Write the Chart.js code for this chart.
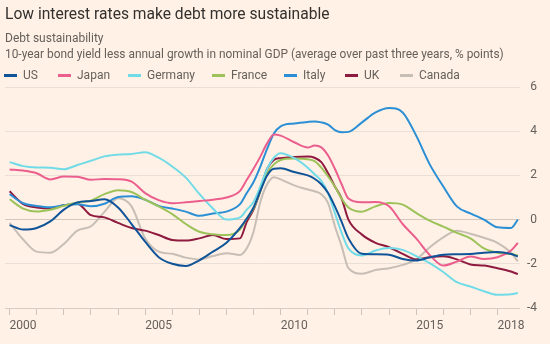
<!DOCTYPE html>
<html>
<head>
<meta charset="utf-8">
<script src="https://cdn.jsdelivr.net/npm/chart.js@4"></script>
<style>
  html,body{margin:0;padding:0;background:#fff1e5;}
  #wrap{position:relative;width:550px;height:344px;overflow:hidden;background:#fff1e5;font-family:Roboto,"Noto Sans",sans-serif;}
  #c{position:absolute;left:0;top:0;}
  .t{position:absolute;white-space:nowrap;}
  #title{left:5px;top:4px;font-size:15.6px;line-height:20px;color:#33302e;}
  #sub1{left:5px;top:30px;font-size:12px;line-height:16px;color:#66605c;}
  #sub2{left:5px;top:46px;font-size:11.9px;line-height:16px;color:#66605c;}
  .lg{position:absolute;top:67px;height:16px;font-size:12px;line-height:16px;color:#66605c;white-space:nowrap;}
  .sw{position:absolute;top:7px;width:13px;height:3px;}
</style>
</head>
<body>
<div id="wrap">
  <canvas id="c" width="550" height="344"></canvas>
  <div class="t" id="title">Low interest rates make debt more sustainable</div>
  <div class="t" id="sub1">Debt sustainability</div>
  <div class="t" id="sub2">10-year bond yield less annual growth in nominal GDP (average over past three years, % points)</div>
  <div id="legend"></div>
</div>
<script>
// ---- data ----
const years = [2000,2000.5,2001,2001.5,2002,2002.5,2003,2003.5,2004,2004.5,2005,2005.5,2006,2006.5,2007,2007.5,2008,2008.5,2008.75,2009,2009.25,2009.5,2009.75,2010,2010.5,2011,2011.25,2011.5,2011.75,2012,2012.25,2012.5,2013,2013.5,2014,2014.5,2015,2015.5,2016,2016.5,2017,2017.5,2018,2018.5,2018.75];

const us      = [-0.25,-0.45,-0.38,-0.08,0.45,0.78,0.84,0.92,0.55,-0.2,-1.0,-1.7,-2.0,-2.1,-1.84,-1.45,-1.05,-0.38,0.05,0.55,1.3,2.0,2.3,2.32,2.15,2.0,1.85,1.6,1.2,0.6,-0.1,-0.85,-1.55,-1.57,-1.59,-1.78,-1.85,-1.71,-1.59,-1.57,-1.56,-1.5,-1.47,-1.56,-1.67];
const japan   = [2.27,2.22,2.1,1.82,1.95,1.94,1.8,1.84,1.83,1.72,1.2,0.88,0.74,0.78,0.84,0.9,1.0,1.3,1.8,2.3,2.85,3.45,3.85,3.8,3.5,3.26,3.35,3.27,2.9,2.3,1.6,0.95,0.78,0.8,0.6,-0.2,-0.85,-1.6,-2.08,-1.9,-1.67,-1.78,-1.7,-1.4,-1.06];
const germany = [2.6,2.42,2.36,2.35,2.28,2.47,2.66,2.86,2.94,2.97,3.05,2.8,2.4,1.9,1.16,0.5,0.0,0.1,0.45,0.8,1.5,2.3,2.8,3.0,2.78,2.35,2.05,1.75,1.2,0.3,-0.6,-1.3,-1.62,-1.4,-1.29,-1.37,-1.65,-1.97,-2.37,-2.83,-3.03,-3.24,-3.4,-3.38,-3.32];
const france  = [0.92,0.5,0.37,0.45,0.62,0.77,0.86,1.15,1.33,1.25,0.9,0.6,0.25,-0.2,-0.55,-0.66,-0.7,-0.45,0.05,0.5,1.3,2.1,2.5,2.7,2.76,2.73,2.65,2.35,1.95,1.5,0.95,0.55,0.36,0.6,0.75,0.68,0.3,-0.05,-0.32,-0.6,-0.85,-1.3,-1.5,-1.56,-1.62];
const italy   = [1.15,0.74,0.62,0.56,0.65,0.7,0.6,0.72,1.02,1.06,0.9,0.62,0.5,0.36,0.17,0.28,0.36,0.7,1.2,1.7,2.4,3.2,3.9,4.22,4.35,4.42,4.44,4.4,4.3,4.05,3.95,3.97,4.4,4.85,5.05,4.85,3.8,2.5,1.5,0.6,0.28,0.0,-0.35,-0.38,0.0];
const uk      = [1.28,0.7,0.55,0.5,0.65,0.72,0.2,0.1,-0.15,-0.38,-0.5,-0.7,-0.92,-0.95,-0.85,-0.7,-0.88,-0.85,-0.1,0.45,1.3,2.3,2.7,2.78,2.83,2.85,2.8,2.6,2.1,1.5,0.95,0.0,-0.68,-1.05,-1.25,-1.55,-1.8,-1.7,-1.66,-1.8,-2.03,-2.08,-2.2,-2.35,-2.47];
const canada  = [-0.15,-0.9,-1.45,-1.5,-1.1,-0.5,-0.3,0.35,0.97,0.6,-0.85,-1.45,-1.55,-1.72,-1.8,-1.65,-1.52,-1.6,-1.3,-0.55,0.8,1.6,1.92,1.82,1.55,1.36,1.28,1.15,0.75,-0.3,-1.2,-2.2,-2.45,-2.28,-2.2,-2.05,-1.8,-1.25,-0.8,-0.5,-0.64,-0.82,-1.05,-1.5,-1.89];

const seriesNames = ['US','Japan','Germany','France','Italy','UK','Canada'];
const seriesValues = [us, japan, germany, france, italy, uk, canada];
const seriesColors = ['#0f5499','#eb5e8d','#72dbe8','#9cc259','#2b8fd6','#8f1a3f','#c7beb6'];

const xTickYears = [2000,2001,2002,2003,2004,2005,2006,2007,2008,2009,2010,2011,2012,2013,2014,2015,2016,2017,2018];
const xLabelYears = [2000,2005,2010,2015,2018];
const yTicks = [-4,-2,0,2,4,6];

// ---- legend ----
const legendLeft = [4,58,128,212,284,345,400];
const lg = document.getElementById('legend');
seriesNames.forEach((n,i)=>{
  const d = document.createElement('div');
  d.className='lg';
  d.style.left = legendLeft[i]+'px';
  d.innerHTML = '<span class="sw" style="left:0;background:'+seriesColors[i]+'"></span><span style="margin-left:19px">'+n+'</span>';
  lg.appendChild(d);
});

// ---- chart ----
const datasets = seriesNames.map((n,i)=>({
  label:n,
  data: years.map((y,j)=>({x:y,y:seriesValues[i][j]})),
  borderColor: seriesColors[i],
  backgroundColor: seriesColors[i],
  borderWidth: 2,
  pointRadius: 0,
  cubicInterpolationMode: 'monotone',
  fill:false
}));

new Chart(document.getElementById('c'), {
  type:'line',
  data:{datasets},
  options:{
    responsive:false,
    devicePixelRatio:1,
    animation:false,
    layout:{padding:{left:5,top:87,right:13,bottom:0}},
    plugins:{legend:{display:false},tooltip:{enabled:false}},
    scales:{
      x:{
        type:'linear',
        min:1999.83, max:2018.83,
        afterBuildTicks:(s)=>{ s.ticks = xTickYears.map(v=>({value:v})); },
        afterFit:(s)=>{ s.height = 36; },
        border:{display:false},
        grid:{drawOnChartArea:false, drawTicks:true, tickLength:7, color:'#cfc4ba', lineWidth:1},
        ticks:{
          autoSkip:false, maxRotation:0, align:'start', padding:4,
          color:'#66605c', font:{family:'Roboto, "Noto Sans", sans-serif', size:12},
          callback:(v)=> xLabelYears.includes(v) ? String(v) : ''
        }
      },
      y:{
        position:'right',
        min:-4, max:6,
        afterBuildTicks:(s)=>{ s.ticks = yTicks.map(v=>({value:v})); },
        afterFit:(s)=>{ s.width = 17; },
        border:{display:false},
        grid:{drawTicks:false, color:(c)=> c.tick.value===0 ? '#d3c8be' : (c.tick.value===-4 ? '#d6ccc2' : '#eadfd6'), lineWidth:1},
        ticks:{
          padding:6, crossAlign:'far',
          color:'#66605c', font:{family:'Roboto, "Noto Sans", sans-serif', size:12},
          callback:(v)=> String(v)
        }
      }
    }
  }
});
</script>
</body>
</html>
